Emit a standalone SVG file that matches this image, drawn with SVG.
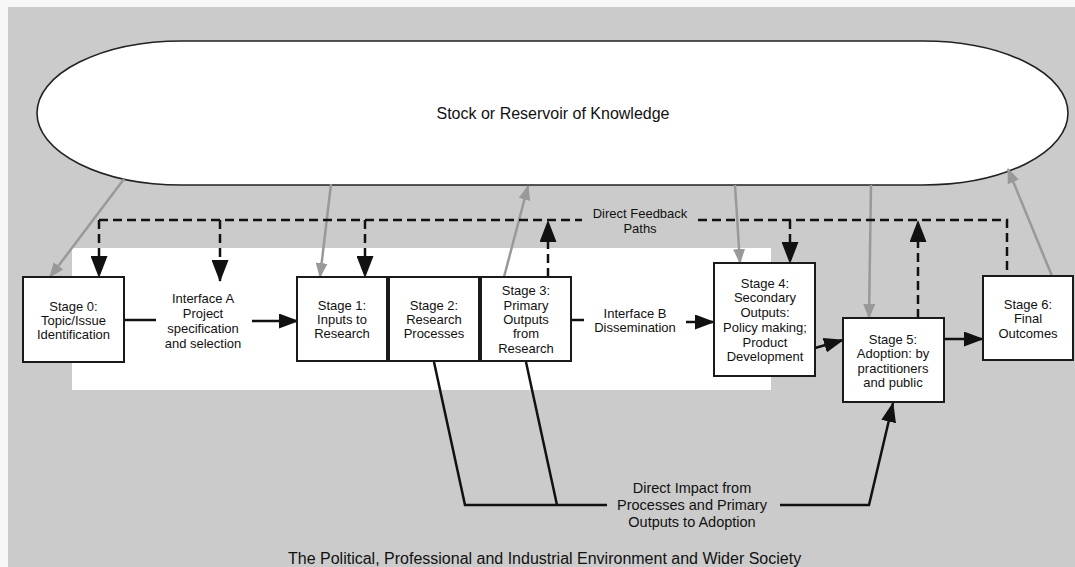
<svg xmlns="http://www.w3.org/2000/svg" width="1075" height="567" viewBox="0 0 1075 567">
<defs>
<style>
text{font-family:"Liberation Sans",Arial,sans-serif;fill:#111;text-anchor:middle}
.t13{font-size:13px}
.box{fill:#fff;stroke:#1a1a1a;stroke-width:2}
.solid{fill:none;stroke:#111;stroke-width:2.5}
.dash{fill:none;stroke:#111;stroke-width:2.5;stroke-dasharray:9 5}
.gray{fill:none;stroke:#999;stroke-width:2.5}
</style>
<marker id="ah" markerUnits="userSpaceOnUse" markerWidth="20" markerHeight="15" refX="19" refY="7.5" orient="auto"><path d="M0,0 L20,7.5 L0,15 z" fill="#111"/></marker>
<marker id="ad" markerUnits="userSpaceOnUse" markerWidth="22" markerHeight="17" refX="21" refY="8.5" orient="auto"><path d="M0,0 L22,8.5 L0,17 z" fill="#111"/></marker>
<marker id="ag" markerUnits="userSpaceOnUse" markerWidth="15" markerHeight="12" refX="14" refY="6" orient="auto"><path d="M0,0 L15,6 L0,12 z" fill="#999"/></marker>
</defs>
<rect x="0" y="0" width="1075" height="567" fill="#f7f7f7"/>
<rect x="8" y="7" width="1067" height="560" fill="#cbcbcb"/>
<rect x="72" y="248" width="699" height="142" fill="#fff"/>
<g id="reservoir">
<rect x="37" y="41" width="1031" height="144" rx="145" ry="72" fill="#fff" stroke="#222" stroke-width="1.6"/>
<text x="553" y="119" style="font-size:16px">Stock or Reservoir of Knowledge</text>
</g>
<g id="connectors">
<path class="gray" d="M124,179 L50,277" marker-end="url(#ag)"/>
<path class="gray" d="M331,184 L320,277" marker-end="url(#ag)"/>
<path class="gray" d="M504,277 L528,186" marker-end="url(#ag)"/>
<path class="gray" d="M735,185 L740,263" marker-end="url(#ag)"/>
<path class="gray" d="M871,185 L869,318" marker-end="url(#ag)"/>
<path class="gray" d="M1052,276 L1008,169" marker-end="url(#ag)"/>
<path class="dash" d="M99,220 H582"/>
<path class="dash" d="M698,220 H1007 V276"/>
<path class="dash" d="M99,220 V277" marker-end="url(#ad)"/>
<path class="dash" d="M220,220 V281" marker-end="url(#ad)"/>
<path class="dash" d="M365,220 V277" marker-end="url(#ad)"/>
<path class="dash" d="M548,277 V221" marker-end="url(#ad)"/>
<path class="dash" d="M790,220 V263" marker-end="url(#ad)"/>
<path class="dash" d="M918,318 V221" marker-end="url(#ad)"/>
<path class="solid" d="M124,320 H156"/>
<path class="solid" d="M252,321 H298" marker-end="url(#ah)"/>
<path class="solid" d="M571,320 H584"/>
<path class="solid" d="M686,322 H714" marker-end="url(#ah)"/>
<path class="solid" d="M815,348 L843,340" marker-end="url(#ah)"/>
<path class="solid" d="M944,339 H983" marker-end="url(#ah)"/>
<path class="solid" d="M434,362 L465,505 H607 M526,362 L557,505"/>
<path class="solid" d="M780,505 H869 L893,403" marker-end="url(#ah)"/>
</g>
<g id="stage0">
<rect class="box" x="23" y="277" width="101" height="85"/>
<text class="t13" x="73.5" y="310.5">Stage 0:</text>
<text class="t13" x="73.5" y="324.5">Topic/Issue</text>
<text class="t13" x="73.5" y="338.5">Identification</text>
</g>
<g id="interfaceA">
<text class="t13" x="203" y="302.5">Interface A</text>
<text class="t13" x="203" y="317.5">Project</text>
<text class="t13" x="203" y="332.5">specification</text>
<text class="t13" x="203" y="347.5">and selection</text>
</g>
<g id="stage1">
<rect class="box" x="297" y="277" width="90" height="84"/>
<text class="t13" x="342" y="309.5">Stage 1:</text>
<text class="t13" x="342" y="323.5">Inputs to</text>
<text class="t13" x="342" y="337.5">Research</text>
</g>
<g id="stage2">
<rect class="box" x="389" y="277" width="90" height="84"/>
<text class="t13" x="434" y="309.5">Stage 2:</text>
<text class="t13" x="434" y="323.5">Research</text>
<text class="t13" x="434" y="337.5">Processes</text>
</g>
<g id="stage3">
<rect class="box" x="481" y="277" width="90" height="84"/>
<text class="t13" x="526" y="294.5">Stage 3:</text>
<text class="t13" x="526" y="309.5">Primary</text>
<text class="t13" x="526" y="323.5">Outputs</text>
<text class="t13" x="526" y="337.5">from</text>
<text class="t13" x="526" y="352.5">Research</text>
</g>
<g id="interfaceB">
<text class="t13" x="635" y="317.5">Interface B</text>
<text class="t13" x="635" y="331.5">Dissemination</text>
</g>
<g id="stage4">
<rect class="box" x="714" y="263" width="101" height="113"/>
<text class="t13" x="765" y="287.5">Stage 4:</text>
<text class="t13" x="765" y="301.5">Secondary</text>
<text class="t13" x="765" y="316.5">Outputs:</text>
<text class="t13" x="765" y="331.5">Policy making;</text>
<text class="t13" x="765" y="346.5">Product</text>
<text class="t13" x="765" y="360.5">Development</text>
</g>
<g id="stage5">
<rect class="box" x="843" y="318" width="101" height="84"/>
<text class="t13" x="893" y="343.5">Stage 5:</text>
<text class="t13" x="893" y="357.5">Adoption: by</text>
<text class="t13" x="893" y="372.5">practitioners</text>
<text class="t13" x="893" y="386.5">and public</text>
</g>
<g id="stage6">
<rect class="box" x="983" y="276" width="90" height="84"/>
<text class="t13" x="1028" y="308.5">Stage 6:</text>
<text class="t13" x="1028" y="322.5">Final</text>
<text class="t13" x="1028" y="337.5">Outcomes</text>
</g>
<g id="feedbackLabel">
<text class="t13" x="640" y="217.5">Direct Feedback</text>
<text class="t13" x="640" y="232.5">Paths</text>
</g>
<g id="impactLabel">
<text x="692" y="493" style="font-size:14.5px">Direct Impact from</text>
<text x="692" y="510" style="font-size:14.5px">Processes and Primary</text>
<text x="692" y="527" style="font-size:14.5px">Outputs to Adoption</text>
</g>
<g id="environment">
<text x="288" y="564" style="font-size:16px;text-anchor:start">The Political, Professional and Industrial Environment and Wider Society</text>
</g>
</svg>
